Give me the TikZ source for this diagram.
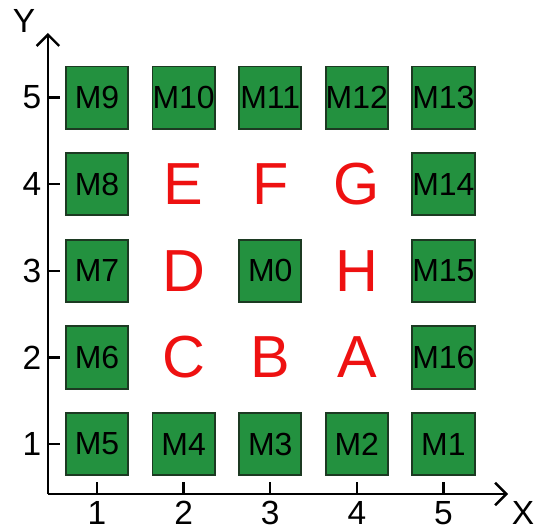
\documentclass[tikz,border=0pt]{standalone}
\usepackage{fontspec}
\setmainfont{Liberation Sans}
\usetikzlibrary{arrows.meta}
\definecolor{blockgreen}{HTML}{23913F}
\definecolor{blockline}{HTML}{1C3A22}
\definecolor{zonered}{HTML}{EE1111}
\tikzset{
  mbox/.style={
    draw=blockline,
    fill=blockgreen,
    line width=0.6pt,
    minimum width=0.72cm,
    minimum height=0.72cm,
    inner sep=0pt,
    font=\fontsize{10.5}{10.5}\selectfont
  },
  zone/.style={text=zonered,font=\fontsize{19.5}{19.5}\selectfont},
  axis/.style={line width=0.8pt,-{Straight Barb[length=1.3mm,width=2.6mm]}},
  tick/.style={line width=0.8pt},
  ticklabel/.style={font=\fontsize{11}{11}\selectfont,inner sep=0pt}
}

\begin{document}
\begin{tikzpicture}
  \useasboundingbox (-0.12,0.03) rectangle (6.046,6.127);

  % axes
  \coordinate (origin) at (0.434,0.423);
  \coordinate (xend) at (5.746,0.423);
  \coordinate (yend) at (0.434,5.746);
  \draw[axis] (origin) -- (xend);
  \draw[axis] (origin) -- (yend);
  \node[ticklabel] (xlabel) at (5.92,0.203) {X};
  \node[ticklabel] (ylabel) at (0.157,5.885) {Y};
  \foreach \i in {1,...,5} {
    \draw[tick] (\i,0.423) -- (\i,0.56);
    \draw[tick] (0.434,\i) -- (0.573,\i);
    \node[ticklabel] (xt\i) at (\i,0.203) {\i};
    \node[ticklabel] (yt\i) at (0.25,\i) {\i};
  }

  % blocks
  \node[mbox] (m0) at (3,3) {M0};
  \node[mbox] (m1) at (5,1) {M1};
  \node[mbox] (m2) at (4,1) {M2};
  \node[mbox] (m3) at (3,1) {M3};
  \node[mbox] (m4) at (2,1) {M4};
  \node[mbox] (m5) at (1,1) {M5};
  \node[mbox] (m6) at (1,2) {M6};
  \node[mbox] (m7) at (1,3) {M7};
  \node[mbox] (m8) at (1,4) {M8};
  \node[mbox] (m9) at (1,5) {M9};
  \node[mbox] (m10) at (2,5) {M10};
  \node[mbox] (m11) at (3,5) {M11};
  \node[mbox] (m12) at (4,5) {M12};
  \node[mbox] (m13) at (5,5) {M13};
  \node[mbox] (m14) at (5,4) {M14};
  \node[mbox] (m15) at (5,3) {M15};
  \node[mbox] (m16) at (5,2) {M16};

  % zones
  \node[zone] (za) at (4,2) {A};
  \node[zone] (zb) at (3,2) {B};
  \node[zone] (zc) at (2,2) {C};
  \node[zone] (zd) at (2,3) {D};
  \node[zone] (ze) at (2,4) {E};
  \node[zone] (zf) at (3,4) {F};
  \node[zone] (zg) at (4,4) {G};
  \node[zone] (zh) at (4,3) {H};
\end{tikzpicture}
\end{document}
